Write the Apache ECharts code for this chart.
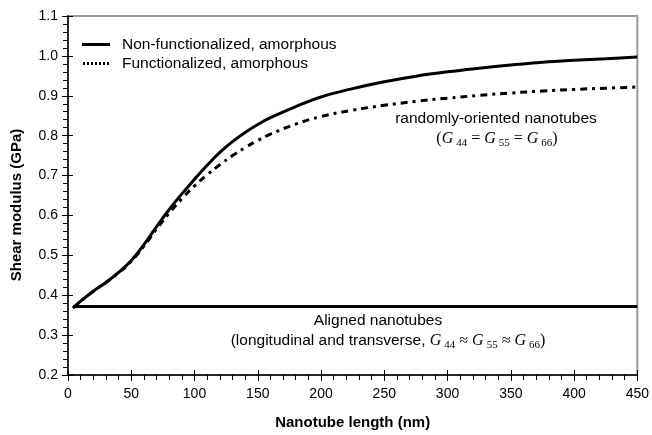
<!DOCTYPE html>
<html>
<head>
<meta charset="utf-8">
<script src="https://cdn.jsdelivr.net/npm/echarts@6/dist/echarts.min.js"></script>
<style>html,body{margin:0;padding:0;background:#fff}#c{width:652px;height:435px}</style>
</head>
<body>
<div id="c"></div>
<script>
var lengths = [4, 10, 20, 30, 40, 50, 60, 70, 80, 90, 100, 110, 120, 130, 140, 150, 160, 180, 200, 225, 250, 275, 300, 325, 350, 375, 400, 425, 450];
var nonFunctionalized = [0.368, 0.385, 0.41, 0.432, 0.457, 0.487, 0.527, 0.572, 0.615, 0.654, 0.691, 0.726, 0.758, 0.785, 0.808, 0.828, 0.845, 0.873, 0.897, 0.918, 0.935, 0.949, 0.96, 0.969, 0.977, 0.984, 0.989, 0.993, 0.997];
var functionalized = [0.368, 0.385, 0.41, 0.432, 0.456, 0.485, 0.523, 0.566, 0.606, 0.642, 0.674, 0.702, 0.727, 0.75, 0.77, 0.788, 0.804, 0.829, 0.848, 0.864, 0.876, 0.886, 0.894, 0.901, 0.907, 0.912, 0.916, 0.919, 0.922];
var alignedX = [4, 450];
var alignedY = [0.372, 0.372];
var seriesNames = ['Non-functionalized, amorphous', 'Functionalized, amorphous'];
var xTitle = 'Nanotube length (nm)';
var yTitle = 'Shear modulus (GPa)';

function pairs(xs, ys) { return xs.map(function (x, i) { return [x, ys[i]]; }); }

var sans = 'Liberation Sans, Arial, sans-serif';
var serif = 'Liberation Serif, Times New Roman, serif';
var richG = {
  s: { fontFamily: sans, fontSize: 15.5, color: '#000' },
  g: { fontFamily: serif, fontStyle: 'italic', fontSize: 16, color: '#000' },
  t: { fontFamily: serif, fontSize: 16, color: '#000' },
  sub: { fontFamily: serif, fontSize: 11, color: '#000', padding: [8, 0, 0, 3] }
};

var chart = echarts.init(document.getElementById('c'), null, { renderer: 'canvas' });
var option = {
  animation: false,
  backgroundColor: '#fff',
  grid: { left: 68, right: 12, top: 16, bottom: 57, show: true, borderColor: '#9a9a9a', borderWidth: 2, containLabel: false },
  xAxis: [{
    type: 'value', min: 0, max: 450, interval: 50,
    name: xTitle, nameLocation: 'middle', nameGap: 40,
    nameTextStyle: { fontFamily: sans, fontSize: 15, fontWeight: 'bold', color: '#000' },
    axisLine: { lineStyle: { color: '#000', width: 1.5 } },
    axisTick: { show: true, inside: false, length: 6, lineStyle: { color: '#000' } },
    minorTick: { show: true, splitNumber: 5, length: 5, lineStyle: { color: '#000' } },
    axisLabel: { fontFamily: sans, fontSize: 14, color: '#000', margin: 12 },
    splitLine: { show: false }
  }, {
    type: 'value', min: 0, max: 450, interval: 50, position: 'bottom',
    axisLine: { show: false }, axisLabel: { show: false }, splitLine: { show: false },
    axisTick: { show: true, inside: true, length: 5, lineStyle: { color: '#000' } }
  }],
  yAxis: [{
    type: 'value', min: 0.2, max: 1.1, interval: 0.1,
    axisLine: { lineStyle: { color: '#000', width: 1.5 } },
    axisTick: { show: true, inside: false, length: 6, lineStyle: { color: '#000' } },
    minorTick: { show: true, splitNumber: 5, length: 5, lineStyle: { color: '#000' } },
    axisLabel: { fontFamily: sans, fontSize: 14, color: '#000', margin: 10, formatter: function (v) { return v.toFixed(1); } },
    splitLine: { show: false }
  }, {
    type: 'value', min: 0.2, max: 1.1, interval: 0.1, position: 'left',
    axisLine: { show: false }, axisLabel: { show: false }, splitLine: { show: false },
    axisTick: { show: true, inside: true, length: 5, lineStyle: { color: '#000' } }
  }],
  series: [
    { name: seriesNames[0], type: 'line', smooth: 0.4, symbol: 'none', data: pairs(lengths, nonFunctionalized),
      lineStyle: { color: '#000', width: 3, type: 'solid' } },
    { name: seriesNames[1], type: 'line', smooth: 0.4, symbol: 'none', data: pairs(lengths, functionalized),
      lineStyle: { color: '#000', width: 3, type: [7, 5, 3, 5] } },
    { name: 'Aligned', type: 'line', symbol: 'none', data: pairs(alignedX, alignedY),
      lineStyle: { color: '#000', width: 3 } }
  ],
  graphic: [
    { type: 'text', x: 17, y: 205, rotation: Math.PI / 2, style: { text: yTitle, fontFamily: sans, fontSize: 15, fontWeight: 'bold', fill: '#000', textAlign: 'center', textVerticalAlign: 'middle' } },
    { type: 'line', shape: { x1: 82, y1: 44.5, x2: 110, y2: 44.5 }, style: { stroke: '#000', lineWidth: 3 } },
    { type: 'line', shape: { x1: 83, y1: 63.5, x2: 111, y2: 63.5 }, style: { stroke: '#000', lineWidth: 3, lineDash: [2, 2] } },
    { type: 'text', x: 122, y: 45, style: { text: seriesNames[0], fontFamily: sans, fontSize: 15.5, fill: '#000', textVerticalAlign: 'middle' } },
    { type: 'text', x: 122, y: 64, style: { text: seriesNames[1], fontFamily: sans, fontSize: 15.5, fill: '#000', textVerticalAlign: 'middle' } },
    { type: 'text', x: 496, y: 119, style: { text: 'randomly-oriented nanotubes', fontFamily: sans, fontSize: 15.5, fill: '#000', textAlign: 'center', textVerticalAlign: 'middle' } },
    { type: 'text', x: 497, y: 139, style: { text: '{t|(}{g|G}{sub|44}{t| = }{g|G}{sub|55}{t| = }{g|G}{sub|66}{t|)}', rich: richG, textAlign: 'center', textVerticalAlign: 'middle' } },
    { type: 'text', x: 378, y: 321, style: { text: 'Aligned nanotubes', fontFamily: sans, fontSize: 15.5, fill: '#000', textAlign: 'center', textVerticalAlign: 'middle' } },
    { type: 'text', x: 388, y: 341, style: { text: '{s|(longitudinal and transverse, }{g|G}{sub|44}{t| \u2248 }{g|G}{sub|55}{t| \u2248 }{g|G}{sub|66}{t|)}', rich: richG, textAlign: 'center', textVerticalAlign: 'middle' } }
  ]
};
chart.setOption(option);
</script>
</body>
</html>
